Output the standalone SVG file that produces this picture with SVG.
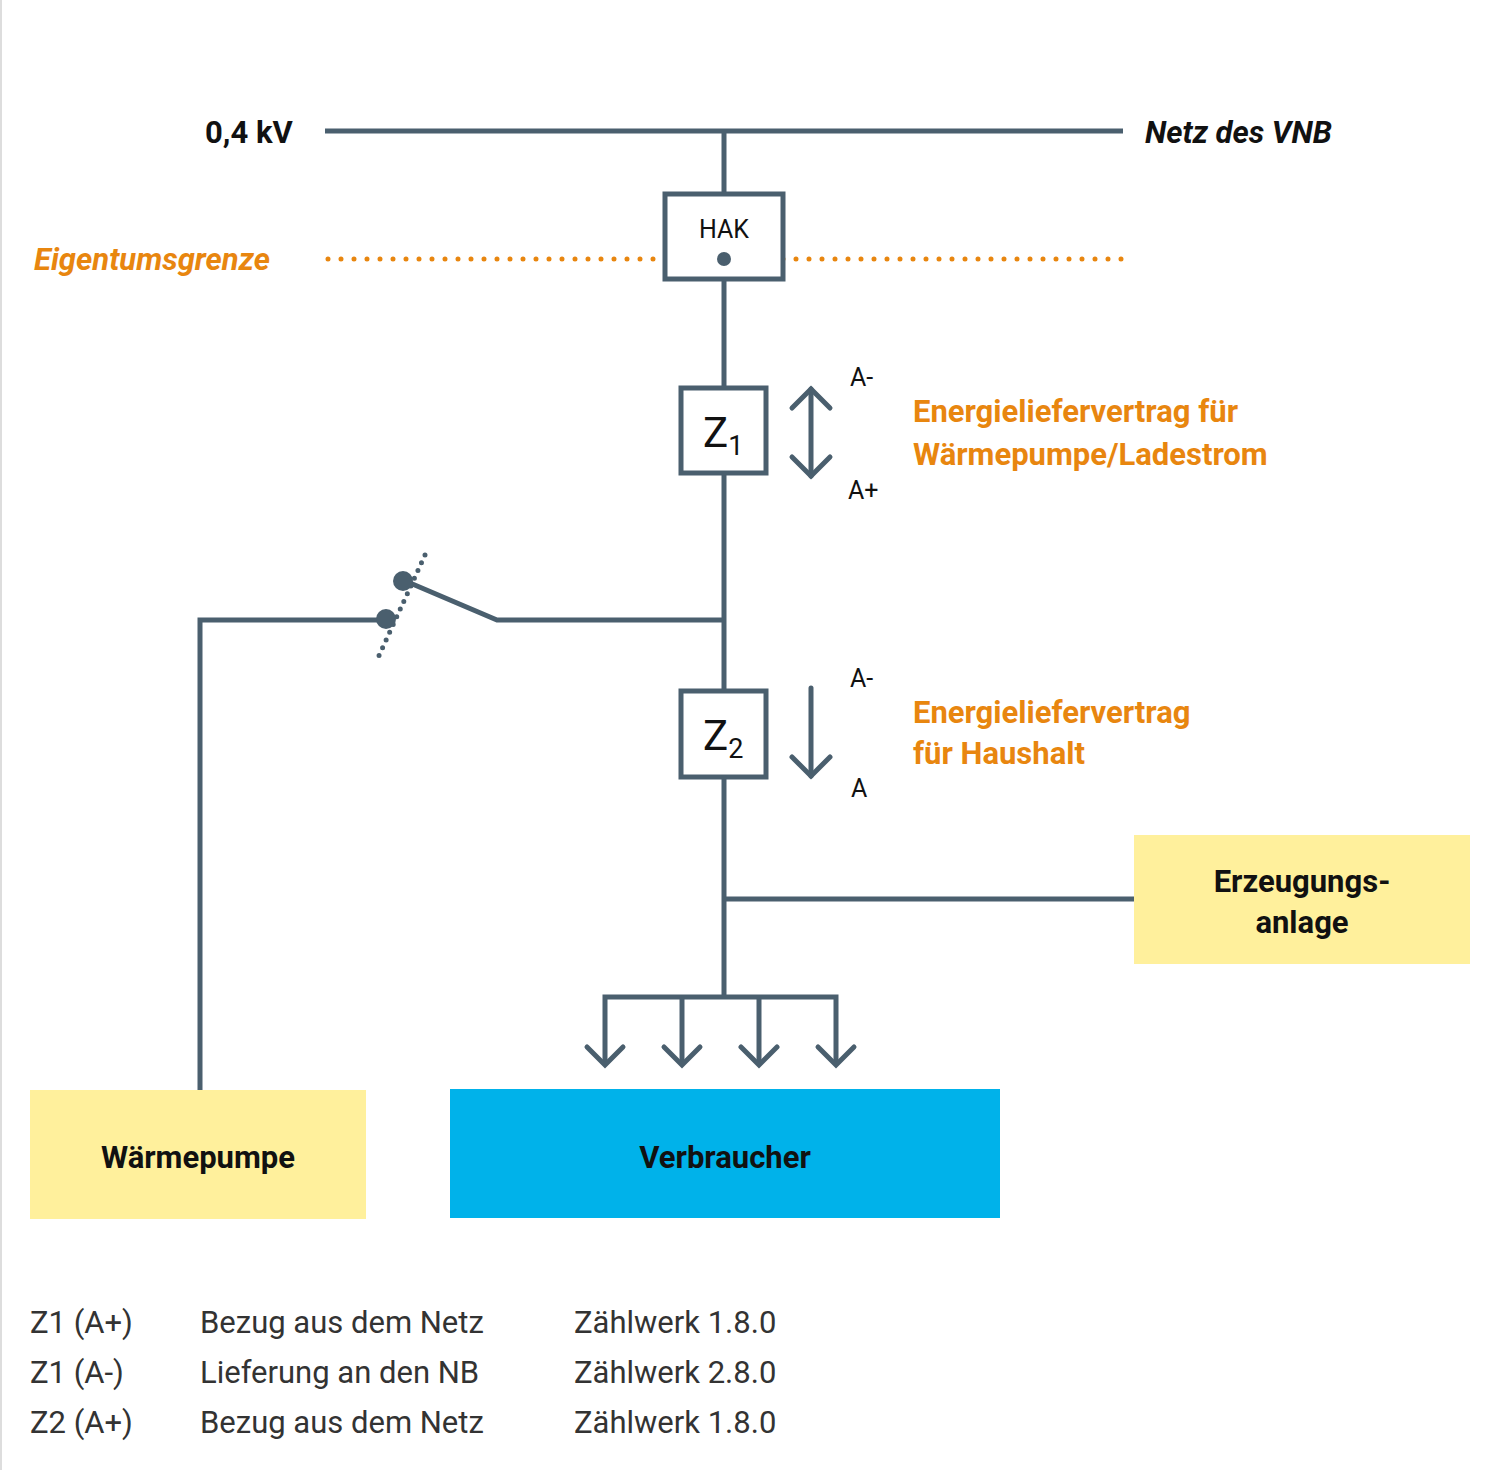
<svg xmlns="http://www.w3.org/2000/svg" width="1493" height="1470" viewBox="0 0 1493 1470">
<style>
.l{stroke:#4a5f6e;stroke-width:5;fill:none}
.b{fill:#fff;stroke:#4a5f6e;stroke-width:5}
text{font-family:Roboto,"Liberation Sans",sans-serif;fill:#111}
.or{fill:#e8860f;font-weight:bold;font-size:31px}
.bd{font-weight:bold;font-size:31px}
.lg{font-size:31px;fill:#333}
.sm{font-size:25px}
</style>
<rect width="1493" height="1470" fill="#fff"/>
<line x1="1" y1="0" x2="1" y2="1470" stroke="#ddd" stroke-width="2"/>
<g id="connectors">
<line class="l" x1="325" y1="131" x2="1123" y2="131"/>
<line class="l" x1="724" y1="131" x2="724" y2="997"/>
<line x1="328" y1="259" x2="1123" y2="259" stroke="#e8860f" stroke-width="5" stroke-linecap="round" stroke-dasharray="0 13"/>
<polyline class="l" points="724,620 497,620 403,580"/>
<polyline class="l" points="386,620 200,620 200,1090"/>
<line x1="425" y1="555" x2="377" y2="660" stroke="#4a5f6e" stroke-width="5" stroke-linecap="round" stroke-dasharray="0 8.5"/>
<circle cx="403" cy="581" r="10" fill="#4a5f6e"/>
<circle cx="386" cy="619" r="10" fill="#4a5f6e"/>
<line class="l" x1="724" y1="899" x2="1134" y2="899"/>
<polyline class="l" points="605,1065 605,997 836,997 836,1065"/>
<line class="l" x1="682" y1="997" x2="682" y2="1065"/>
<line class="l" x1="759" y1="997" x2="759" y2="1065"/>
<g class="l" stroke-linecap="round">
<polyline points="587,1047 605,1065 623,1047"/>
<polyline points="664,1047 682,1065 700,1047"/>
<polyline points="741,1047 759,1065 777,1047"/>
<polyline points="818,1047 836,1065 854,1047"/>
<line x1="811" y1="389" x2="811" y2="476"/>
<polyline points="792,408 811,389 830,408"/>
<polyline points="792,457 811,476 830,457"/>
<line x1="811" y1="688" x2="811" y2="776"/>
<polyline points="792,757 811,776 830,757"/>
</g>
</g>
<text class="bd" x="205" y="143">0,4 kV</text>
<text class="bd" x="1145" y="143" font-style="italic">Netz des VNB</text>
<text class="or" x="34" y="270" font-style="italic">Eigentumsgrenze</text>
<g id="hak"><rect class="b" x="665" y="194" width="118" height="85"/><text x="724" y="238" text-anchor="middle" class="sm" font-size="27">HAK</text></g>
<circle cx="724" cy="259" r="7" fill="#4a5f6e"/>
<g id="z1"><rect class="b" x="681" y="388" width="85" height="85"/><text x="703" y="447" font-size="42">Z<tspan font-size="27" dy="8">1</tspan></text></g>
<g id="z2"><rect class="b" x="681" y="691" width="85" height="86"/><text x="703" y="750" font-size="42">Z<tspan font-size="27" dy="8">2</tspan></text></g>
<text class="sm" x="850" y="386">A-</text>
<text class="sm" x="848" y="499">A+</text>
<text class="sm" x="850" y="687">A-</text>
<text class="sm" x="851" y="797">A</text>
<text class="or" x="913" y="422">Energieliefervertrag für</text>
<text class="or" x="913" y="465">Wärmepumpe/Ladestrom</text>
<text class="or" x="913" y="723">Energieliefervertrag</text>
<text class="or" x="913" y="764">für Haushalt</text>
<g id="erz"><rect x="1134" y="835" width="336" height="129" fill="#fff09c"/><text class="bd" x="1302" y="892" text-anchor="middle">Erzeugungs-</text><text class="bd" x="1302" y="933" text-anchor="middle">anlage</text></g>
<g id="wp"><rect x="30" y="1090" width="336" height="129" fill="#fff09c"/><text class="bd" x="198" y="1168" text-anchor="middle">Wärmepumpe</text></g>
<g id="vb"><rect x="450" y="1089" width="550" height="129" fill="#00b2ea"/><text class="bd" x="725" y="1168" text-anchor="middle">Verbraucher</text></g>
<g class="lg">
<text class="lg" x="30" y="1333">Z1 (A+)</text><text class="lg" x="200" y="1333">Bezug aus dem Netz</text><text class="lg" x="574" y="1333">Zählwerk 1.8.0</text>
<text class="lg" x="30" y="1383">Z1 (A-)</text><text class="lg" x="200" y="1383">Lieferung an den NB</text><text class="lg" x="574" y="1383">Zählwerk 2.8.0</text>
<text class="lg" x="30" y="1433">Z2 (A+)</text><text class="lg" x="200" y="1433">Bezug aus dem Netz</text><text class="lg" x="574" y="1433">Zählwerk 1.8.0</text>
</g>
</svg>
